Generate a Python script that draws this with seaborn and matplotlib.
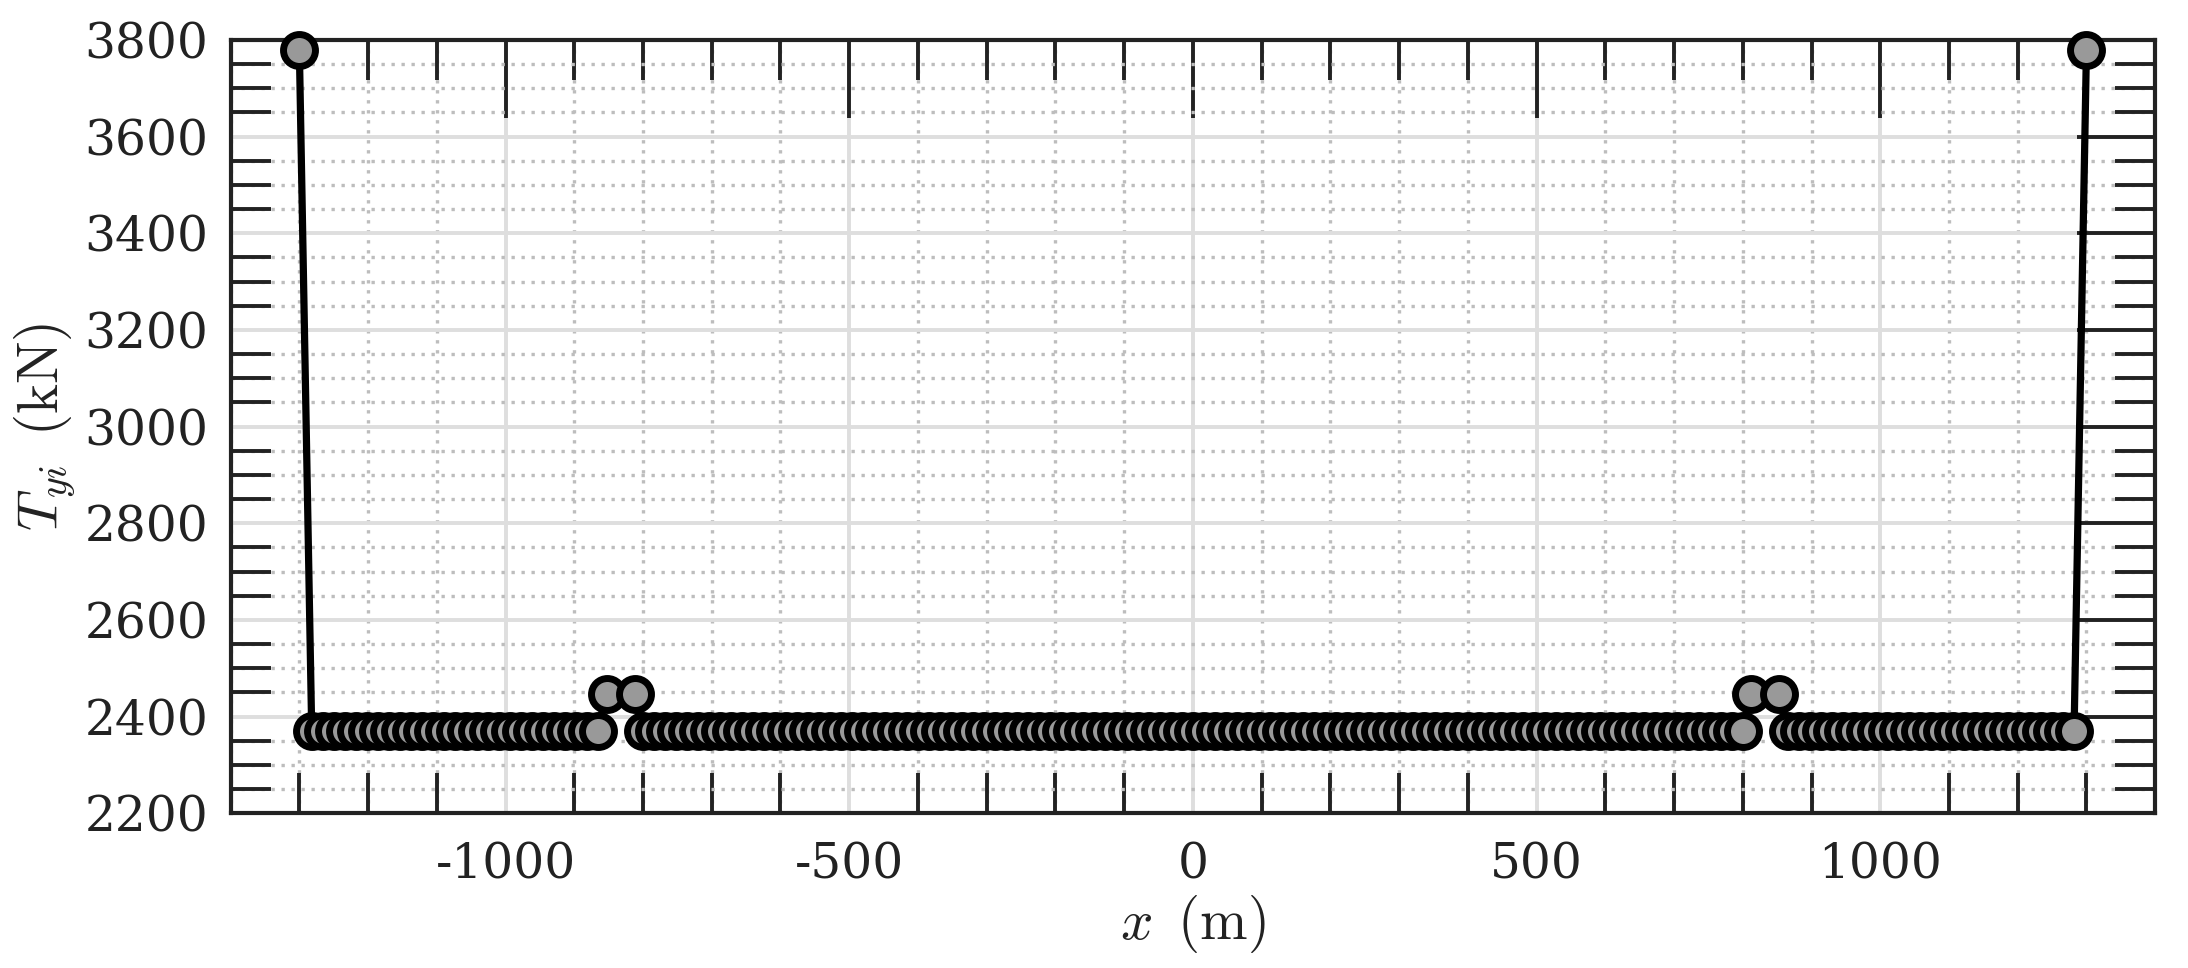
import matplotlib
matplotlib.use("Agg")
import matplotlib.pyplot as plt
from matplotlib.ticker import MultipleLocator, FixedLocator
import seaborn as sns
import pandas as pd

# ---------------- data ----------------
x_end_left = [-1300]
t_end_left = [3780]

x_group_left = [-1282, -1266, -1250, -1234, -1218, -1202, -1186, -1170, -1154,
                -1138, -1122, -1106, -1090, -1074, -1058, -1042, -1026, -1010,
                -994, -978, -962, -946, -930, -914, -898, -882, -866]
t_group_left = [2371, 2371, 2371, 2371, 2371, 2371, 2371, 2371, 2371,
                2371, 2371, 2371, 2371, 2371, 2371, 2371, 2371, 2371,
                2371, 2371, 2371, 2371, 2371, 2371, 2371, 2371, 2371]

x_pair_left = [-853, -812]
t_pair_left = [2447, 2447]

x_group_mid = [-800, -784, -768, -752, -736, -720, -704, -688, -672, -656,
               -640, -624, -608, -592, -576, -560, -544, -528, -512, -496,
               -480, -464, -448, -432, -416, -400, -384, -368, -352, -336,
               -320, -304, -288, -272, -256, -240, -224, -208, -192, -176,
               -160, -144, -128, -112, -96, -80, -64, -48, -32, -16,
               0,
               16, 32, 48, 64, 80, 96, 112, 128, 144, 160,
               176, 192, 208, 224, 240, 256, 272, 288, 304, 320,
               336, 352, 368, 384, 400, 416, 432, 448, 464, 480,
               496, 512, 528, 544, 560, 576, 592, 608, 624, 640,
               656, 672, 688, 704, 720, 736, 752, 768, 784, 800]
t_group_mid = [2371, 2371, 2371, 2371, 2371, 2371, 2371, 2371, 2371, 2371,
               2371, 2371, 2371, 2371, 2371, 2371, 2371, 2371, 2371, 2371,
               2371, 2371, 2371, 2371, 2371, 2371, 2371, 2371, 2371, 2371,
               2371, 2371, 2371, 2371, 2371, 2371, 2371, 2371, 2371, 2371,
               2371, 2371, 2371, 2371, 2371, 2371, 2371, 2371, 2371, 2371,
               2371,
               2371, 2371, 2371, 2371, 2371, 2371, 2371, 2371, 2371, 2371,
               2371, 2371, 2371, 2371, 2371, 2371, 2371, 2371, 2371, 2371,
               2371, 2371, 2371, 2371, 2371, 2371, 2371, 2371, 2371, 2371,
               2371, 2371, 2371, 2371, 2371, 2371, 2371, 2371, 2371, 2371,
               2371, 2371, 2371, 2371, 2371, 2371, 2371, 2371, 2371, 2371]

x_pair_right = [812, 853]
t_pair_right = [2447, 2447]

x_group_right = [866, 882, 898, 914, 930, 946, 962, 978, 994, 1010, 1026, 1042,
                 1058, 1074, 1090, 1106, 1122, 1138, 1154, 1170, 1186, 1202,
                 1218, 1234, 1250, 1266, 1282]
t_group_right = [2371, 2371, 2371, 2371, 2371, 2371, 2371, 2371, 2371, 2371,
                 2371, 2371, 2371, 2371, 2371, 2371, 2371, 2371, 2371, 2371,
                 2371, 2371, 2371, 2371, 2371, 2371, 2371]

x_end_right = [1300]
t_end_right = [3780]

x_ticks = [-1000, -500, 0, 500, 1000]
x_tick_labels = ["-1000", "-500", "0", "500", "1000"]
y_ticks = [2200, 2400, 2600, 2800, 3000, 3200, 3400, 3600, 3800]
y_tick_labels = ["2200", "2400", "2600", "2800", "3000", "3200", "3400", "3600", "3800"]

df = pd.DataFrame({
    "x": x_end_left + x_group_left + x_pair_left + x_group_mid
         + x_pair_right + x_group_right + x_end_right,
    "T": t_end_left + t_group_left + t_pair_left + t_group_mid
         + t_pair_right + t_group_right + t_end_right,
})

# ---------------- style ----------------
sns.set_theme(style="white")
plt.rcParams["font.family"] = ["DejaVu Serif"]
plt.rcParams["mathtext.fontset"] = "cm"
plt.rcParams["axes.unicode_minus"] = False

DPI = 200
fig = plt.figure(figsize=(2188 / DPI, 968 / DPI), dpi=DPI)
ax = fig.add_axes([0.1054, 0.1598, 0.8796, 0.7989])

sns.lineplot(data=df, x="x", y="T", ax=ax, estimator=None, sort=False,
             color="black", linewidth=2.6, marker="o", markersize=11.5,
             markerfacecolor="#999999", markeredgecolor="black",
             markeredgewidth=2.5, zorder=4, clip_on=False)

ax.set_xlim(-1400, 1400)
ax.set_ylim(2200, 3800)

ax.xaxis.set_major_locator(FixedLocator(x_ticks))
ax.set_xticklabels(x_tick_labels)
ax.yaxis.set_major_locator(FixedLocator(y_ticks))
ax.set_yticklabels(y_tick_labels)
ax.xaxis.set_minor_locator(MultipleLocator(100))
ax.yaxis.set_minor_locator(MultipleLocator(50))

dark = "#222222"
ax.tick_params(which="major", direction="in", length=28, width=1.4,
               color=dark, top=True, right=True, labelsize=17.5,
               labelcolor=dark)
ax.tick_params(axis="x", which="major", pad=10)
ax.tick_params(axis="y", which="major", pad=8)
ax.tick_params(which="minor", direction="in", length=14.4, width=1.4,
               color=dark, top=True, right=True, bottom=True, left=True)

for s in ax.spines.values():
    s.set_color(dark)
    s.set_linewidth(1.5)
    s.set_zorder(3)

ax.set_axisbelow(True)
ax.grid(which="major", color="#dedede", linewidth=1.4, linestyle="-")
ax.grid(which="minor", color="#bdbdbd", linewidth=1.2, linestyle=(0, (1, 2)))

ax.set_xlabel(r"$x\ \,(\mathrm{m})$", fontsize=20.5, color=dark)
ax.set_ylabel(r"$T_{yi}\ \,(\mathrm{kN})$", fontsize=20.5, color=dark)
ax.xaxis.set_label_coords(0.5, -0.103)
ax.xaxis.label.set_va("top")
ax.yaxis.set_label_coords(-0.0794, 0.5)

fig.savefig("out.png", dpi=DPI)
